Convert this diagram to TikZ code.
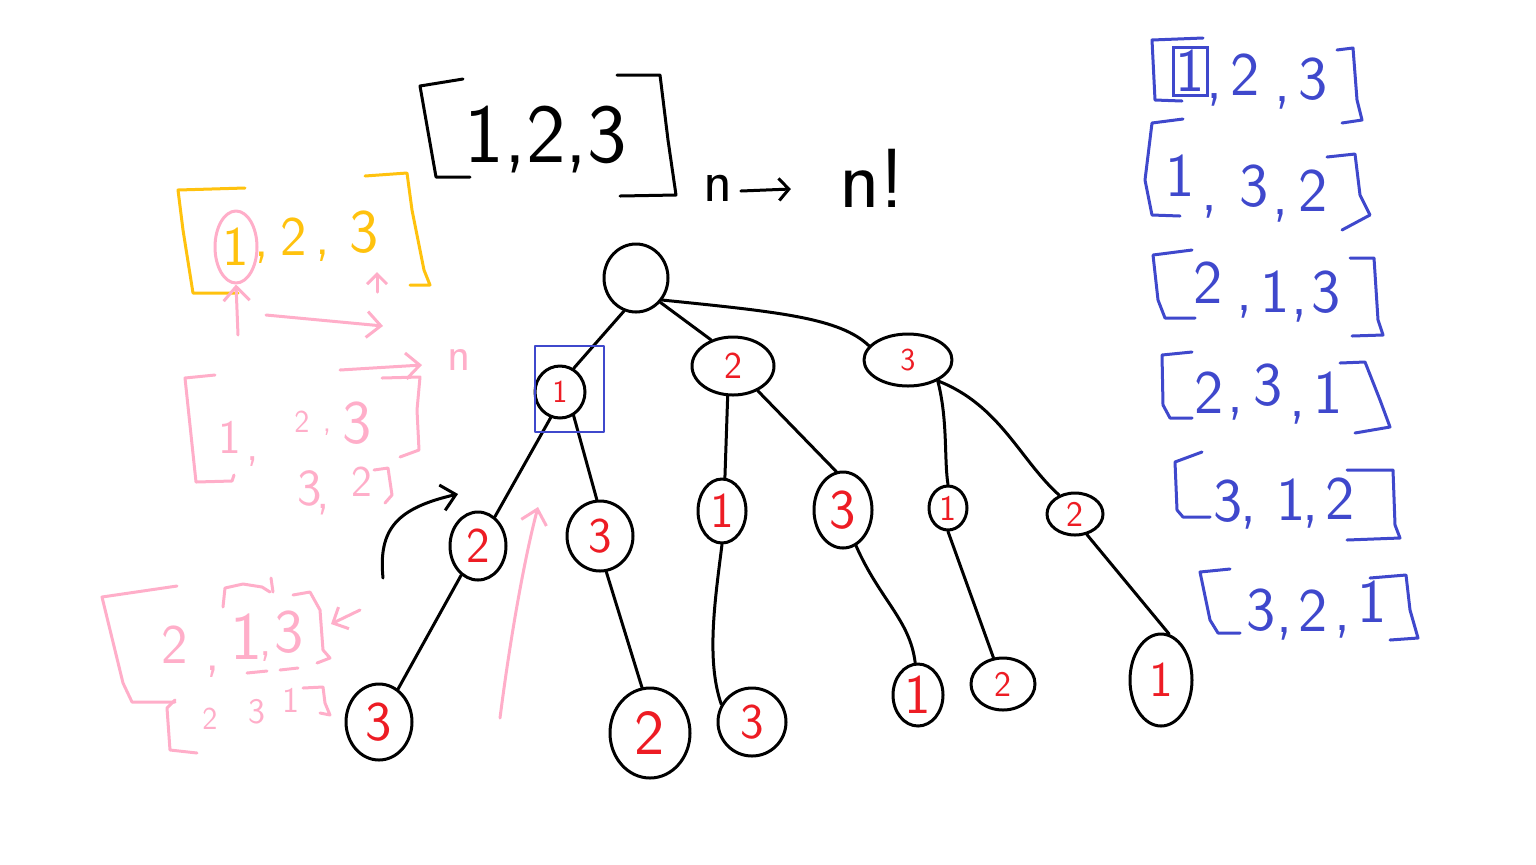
\documentclass[tikz,border=0pt]{standalone}
\usetikzlibrary{shapes.geometric,arrows.meta}
\definecolor{pyel}{HTML}{FFC20E}
\definecolor{ppink}{HTML}{FFAEC9}
\definecolor{pblue}{HTML}{3F48CC}
\definecolor{pred}{HTML}{ED1C24}
\newcommand\fsz[1]{\fontsize{#1}{#1}\selectfont}
\tikzset{
  pen/.style={line width=1.5pt, line cap=round, line join=round},
  ppen/.style={pen, draw=ppink},
  ypen/.style={pen, draw=pyel},
  bpen/.style={pen, draw=pblue},
  tip/.style={-{Straight Barb[length=7pt,width=13pt,line width=1.5pt]}},
  txt/.style={inner sep=0pt, font=\sffamily\fsz{#1}},
  txt/.default=30,
  ytxt/.style={txt=#1, text=pyel},
  ptxt/.style={txt=#1, text=ppink},
  btxt/.style={txt=31, text=pblue},
  tnode/.style={draw, ellipse, pen, inner sep=0pt, text=pred, font=\sffamily\fsz{#1}},
  tnode/.default=20,
}
\begin{document}
\begin{tikzpicture}[x=0.5pt,y=-0.5pt]
\useasboundingbox (0,0) rectangle (1536,864);

% ---------- top black ----------
\node[txt=42] (top) at (546,140) {1,2,3};
\draw[pen] (463,79) -- (420,86) -- (436,177) -- (470,177);
\draw[pen] (617,75) -- (660,75) -- (668,140) -- (676,195) -- (620,196);
\node[txt=30] (nsm) at (718,188) {n};
\node[txt=42] (nfac) at (872,178) {n!};
\draw[pen,-{Straight Barb[length=5pt,width=11pt,line width=1.5pt]}] (nsm.east) ++(8,3) -- ++(50,-2);

% ---------- tree ----------
\node[tnode, minimum width=32pt, minimum height=34pt] (root) at (636,278) {};
\node[tnode=16, minimum width=25pt, minimum height=26pt] (n1) at (560,392) {1};
\node[tnode=19, minimum width=41pt, minimum height=29pt] (n2) at (733,366) {2};
\node[tnode=16, minimum width=44pt, minimum height=26pt] (n3) at (908,360) {3};
\node[tnode=25, minimum width=28pt, minimum height=34pt] (n12) at (478,546) {2};
\node[tnode=25, minimum width=33pt, minimum height=35pt] (n13) at (600,536) {3};
\node[tnode=25, minimum width=24pt, minimum height=32pt] (n21) at (722,511) {1};
\node[tnode=28, minimum width=29pt, minimum height=38pt] (n23) at (843,510) {3};
\node[tnode=18, minimum width=19pt, minimum height=22pt] (n31) at (948,508) {1};
\node[tnode=18, minimum width=28pt, minimum height=21pt] (n32) at (1075,514) {2};
\node[tnode=28, minimum width=33pt, minimum height=38pt] (n123) at (379,722) {3};
\node[tnode=32, minimum width=40pt, minimum height=45pt] (n132) at (650,733) {2};
\node[tnode=25, minimum width=34pt, minimum height=34pt] (n213) at (752,722) {3};
\node[tnode=28, minimum width=25pt, minimum height=31pt] (n231) at (918,695) {1};
\node[tnode=18, minimum width=32pt, minimum height=26pt] (n312) at (1003,684) {2};
\node[tnode=25, minimum width=31pt, minimum height=46pt] (n321) at (1161,680) {1};

\draw[pen] (root.250) -- (n1.60);
\draw[pen] (root.-45) -- (n2.130);
\draw[pen] (root.-40) .. controls (780,312) and (840,318) .. (n3.160);
\draw[pen] (n1.-110) -- (n12.60);
\draw[pen] (n1.-60) -- (n13.95);
\draw[pen] (n2.-100) -- (n21.85);
\draw[pen] (n2.-45) -- (n23.100);
\draw[pen] (n3.-35) .. controls (948,420) and (944,460) .. (n31.90);
\draw[pen] (n3.-35) .. controls (1000,405) and (1020,460) .. (n32.130);
\draw[pen] (n12.-120) -- (n123.60);
\draw[pen] (n13.-80) -- (n132.100);
\draw[pen] (n21.-90) .. controls (715,600) and (706,660) .. (n213.150);
\draw[pen] (n23.-70) .. controls (880,600) and (910,620) .. (n231.95);
\draw[pen] (n31.-90) -- (n312.110);
\draw[pen] (n32.-60) -- (n321.80);

\draw[bpen, line width=0.8pt] (535,346) rectangle (604,432);

% black curved arrow
\coordinate (ba0) at (383,578);
\coordinate (ba1) at (458,494);
\draw[pen,tip] (ba0) .. controls (378,528) and (398,508) .. (ba1);
% pink curved arrow
\coordinate (pa0) at (500,718);
\coordinate (pa1) at (538,507);
\draw[ppen,tip] (pa0) .. controls (510,640) and (524,560) .. (pa1);

% ---------- yellow [1,2,3] ----------
\draw[ypen] (245,188) -- (178,190) -- (183,230) -- (193,293) -- (238,293);
\draw[ypen] (365,176) -- (407,173) -- (412,210) -- (424,270) -- (430,285) -- (410,285);
\node[ytxt=28, ellipse, draw=ppink, pen, minimum width=21pt, minimum height=36pt, inner sep=0pt] (y1) at (236,247) {1};
\node[ytxt=28] (yc1) at (262,258) {,};
\node[ytxt=28] (y2) at (294,237) {2};
\node[ytxt=28] (yc2) at (323,256) {,};
\node[ytxt=31] (y3) at (364,232) {3};

% pink annotations
\coordinate (pu0) at (238,335);
\draw[ppen,tip] (pu0) -- (y1.south);
\coordinate (ps0) at (377,292);
\coordinate (ps1) at (377,272);
\draw[ppen,-{Straight Barb[length=5pt,width=10pt,line width=1.5pt]}] (ps0) -- (ps1);
\coordinate (pr0) at (266,315);
\coordinate (pr1) at (383,326);
\draw[ppen,tip] (pr0) -- (pr1);
\coordinate (pn0) at (340,370);
\coordinate (pn1) at (422,365);
\draw[ppen,tip] (pn0) -- (pn1);
\node[ptxt=24] (pn) at (459,360) {n};

% pink [1, 2,3]
\draw[ppen] (215,375) -- (185,378) -- (196,482) -- (232,481) -- (234,475);
\draw[ppen] (382,378) -- (420,377) -- (417,410) -- (419,450) -- (400,457);
\node[ptxt=24] (q1) at (230,437) {1};
\node[ptxt=24] (qc1) at (253,462) {,};
\node[ptxt=16] (q2) at (302,422) {2};
\node[ptxt=16] (qc2) at (327,432) {,};
\node[ptxt=31] (q3) at (357,423) {3};
\node[ptxt=26] (r3) at (310,488) {3};
\node[ptxt=26] (rc) at (323,510) {,};
\node[ptxt=22] (r2) at (362,482) {2};
\draw[ppen] (374,470) -- (388,468) -- (392,495) -- (385,503);

% pink [2, [1,3]]
\draw[ppen] (177,586) -- (102,597) -- (123,683) -- (132,702) -- (175,702);
\node[ptxt=28] (s2) at (175,645) {2};
\node[ptxt=28] (sc1) at (213,672) {,};
\draw[ppen] (223,607) -- (225,588) -- (243,584) -- (262,587) -- (270,592);
\draw[ppen] (271,578) -- (273,592);
\node[ptxt=34] (s1) at (246,637) {1};
\node[ptxt=24] (sc2) at (266,657) {,};
\node[ptxt=31] (s3) at (289,632) {3};
\draw[ppen] (293,595) -- (310,592) -- (320,610) -- (323,650) -- (330,658) -- (317,663);
\draw[ppen] (247,673) -- (267,671);
\draw[ppen] (280,670) -- (298,668);
\coordinate (pl0) at (360,610);
\coordinate (pl1) at (331,624);
\draw[ppen,-{Straight Barb[length=6pt,width=12pt,line width=1.5pt]}] (pl0) -- (pl1);
% pink [2 3 1]
\draw[ppen] (175,700) -- (167,708) -- (170,750) -- (197,753);
\node[ptxt=16] (t2) at (210,719) {2};
\node[ptxt=18] (t3) at (257,712) {3};
\node[ptxt=18] (t1) at (291,700) {1};
\draw[ppen] (303,688) -- (323,687) -- (325,703) -- (330,715) -- (320,713);

% ---------- blue list ----------
% row 1
\draw[bpen] (1203,38) -- (1152,40) -- (1155,100) -- (1182,101);
\node[btxt, draw=pblue, line width=1.5pt, minimum width=17pt, minimum height=24pt] (a1) at (1190,71) {1};
\node[btxt] (ac1) at (1215,100) {,};
\node[btxt] (a2) at (1245,75) {2};
\node[btxt] (ac2) at (1283,103) {,};
\node[btxt] (a3) at (1313,79) {3};
\draw[bpen] (1337,50) -- (1353,48) -- (1357,100) -- (1362,120) -- (1342,123);
% row 2
\draw[bpen] (1183,119) -- (1152,123) -- (1145,180) -- (1152,215) -- (1180,216);
\node[btxt] (b1) at (1180,176) {1};
\node[btxt] (bc1) at (1210,212) {,};
\node[btxt] (b3) at (1254,186) {3};
\node[btxt] (bc2) at (1281,216) {,};
\node[btxt] (b2) at (1313,191) {2};
\draw[bpen] (1327,157) -- (1355,154) -- (1360,195) -- (1370,215) -- (1342,230);
% row 3
\draw[bpen] (1192,250) -- (1153,255) -- (1158,300) -- (1165,318) -- (1195,318);
\node[btxt] (c2) at (1208,283) {2};
\node[btxt] (cc1) at (1245,312) {,};
\node[btxt] (c1) at (1275,292) {1};
\node[btxt] (cc2) at (1300,316) {,};
\node[btxt] (c3) at (1326,292) {3};
\draw[bpen] (1350,258) -- (1374,258) -- (1378,320) -- (1383,335) -- (1352,336);
% row 4
\draw[bpen] (1192,352) -- (1162,355) -- (1163,405) -- (1170,418) -- (1192,418);
\node[btxt] (d2) at (1209,393) {2};
\node[btxt] (dc1) at (1236,414) {,};
\node[btxt] (d3) at (1268,385) {3};
\node[btxt] (dc2) at (1298,418) {,};
\node[btxt] (d1) at (1328,393) {1};
\draw[bpen] (1340,363) -- (1365,362) -- (1380,400) -- (1390,427) -- (1355,433);
% row 5
\draw[bpen] (1202,452) -- (1175,462) -- (1177,510) -- (1183,517) -- (1210,517);
\node[btxt] (e3) at (1228,501) {3};
\node[btxt] (ec1) at (1249,523) {,};
\node[btxt] (e1) at (1291,500) {1};
\node[btxt] (ec2) at (1311,522) {,};
\node[btxt] (e2) at (1340,499) {2};
\draw[bpen] (1347,470) -- (1393,470) -- (1395,525) -- (1400,538) -- (1347,540);
% row 6
\draw[bpen] (1230,569) -- (1200,572) -- (1210,620) -- (1218,633) -- (1240,633);
\node[btxt] (f3) at (1261,610) {3};
\node[btxt] (fc1) at (1285,634) {,};
\node[btxt] (f2) at (1313,611) {2};
\node[btxt] (fc2) at (1343,632) {,};
\node[btxt] (f1) at (1372,602) {1};
\draw[bpen] (1370,578) -- (1406,575) -- (1410,610) -- (1418,638) -- (1390,640);
\end{tikzpicture}
\end{document}
